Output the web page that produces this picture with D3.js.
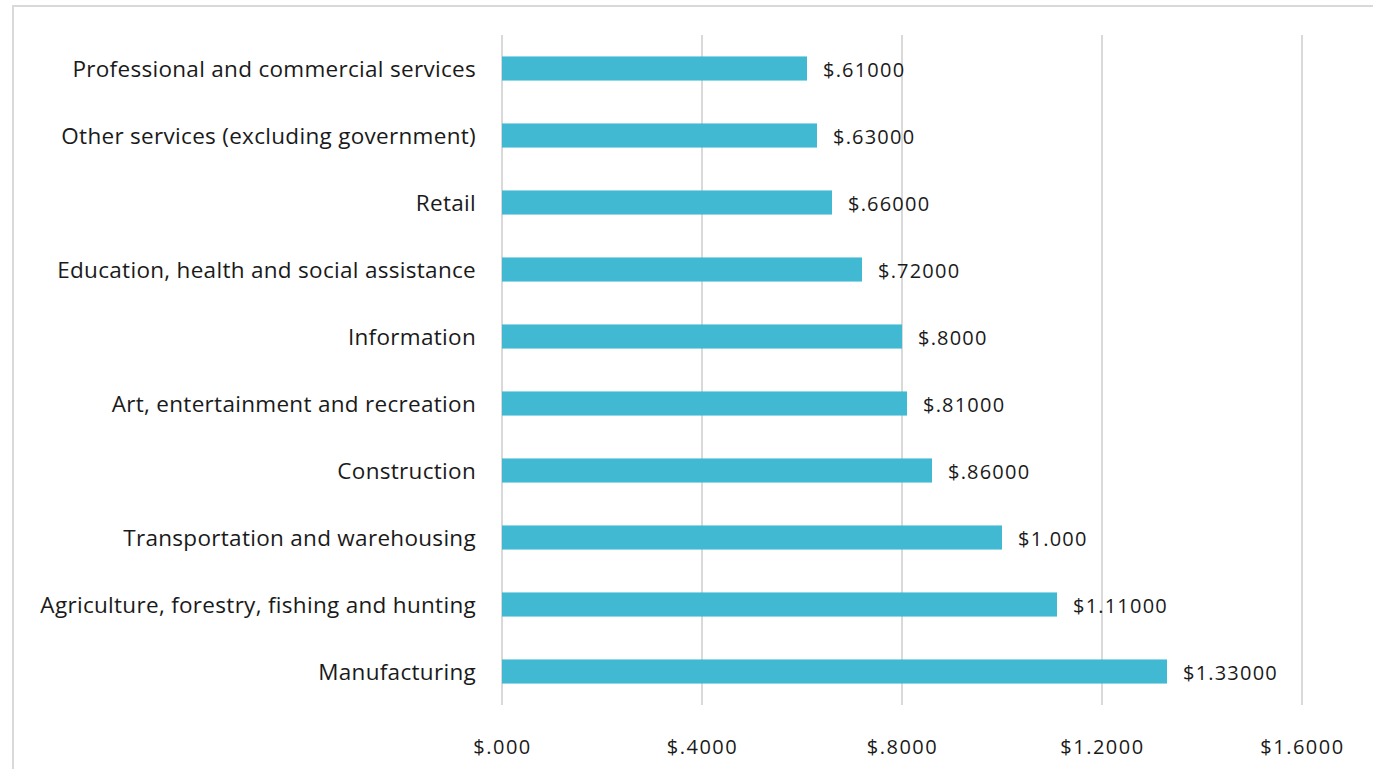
<!DOCTYPE html>
<html>
<head>
<meta charset="utf-8">
<script src="https://cdn.jsdelivr.net/npm/d3@7"></script>
<style>
  body { margin: 0; background: #fff; }
  svg { display: block; font-family: "Open Sans", Lato, sans-serif; }
</style>
</head>
<body>
<svg id="chart"></svg>
<script>
const categories = [
  "Professional and commercial services",
  "Other services (excluding government)",
  "Retail",
  "Education, health and social assistance",
  "Information",
  "Art, entertainment and recreation",
  "Construction",
  "Transportation and warehousing",
  "Agriculture, forestry, fishing and hunting",
  "Manufacturing"
];
const values = [0.61, 0.63, 0.66, 0.72, 0.80, 0.81, 0.86, 1.00, 1.11, 1.33];
const valueLabels = ["$.61000", "$.63000", "$.66000", "$.72000", "$.8000", "$.81000", "$.86000", "$1.000", "$1.11000", "$1.33000"];
const tickValues = [0, 0.4, 0.8, 1.2, 1.6];
const tickLabels = ["$.000", "$.4000", "$.8000", "$1.2000", "$1.6000"];

const width = 1373, height = 769;
const margin = {top: 35, right: 71, bottom: 64, left: 502};
const innerW = width - margin.left - margin.right;
const innerH = height - margin.top - margin.bottom;

const svg = d3.select("#chart").attr("width", width).attr("height", height);

// outer frame
svg.append("rect")
  .attr("x", 13).attr("y", 6)
  .attr("width", width).attr("height", height)
  .attr("fill", "none").attr("stroke", "#d9d9d9").attr("stroke-width", 2);

const chart = svg.append("g")
  .attr("transform", `translate(${margin.left}, ${margin.top})`);

const xscale = d3.scaleLinear().domain([0, 1.6]).range([0, innerW]);
const yscale = d3.scaleBand().domain(categories).range([0, innerH]).paddingInner(0.64).paddingOuter(0.32);

// gridlines
chart.append("g")
  .selectAll("line")
  .data(tickValues)
  .join("line")
  .attr("x1", d => xscale(d)).attr("x2", d => xscale(d))
  .attr("y1", 0).attr("y2", innerH)
  .attr("stroke", "#d9d9d9").attr("stroke-width", 2);

// x axis labels
const xaxis = d3.axisBottom(xscale)
  .tickValues(tickValues)
  .tickFormat((d, i) => tickLabels[i])
  .tickSize(0).tickPadding(35);
const xg = chart.append("g").attr("transform", `translate(0, ${innerH})`).call(xaxis);
xg.select(".domain").remove();
xg.selectAll("text")
  .attr("font-size", 20).attr("fill", "#1a1a1a")
  .attr("font-family", "'Open Sans', sans-serif").attr("letter-spacing", 1.5);

// y axis labels
const yaxis = d3.axisLeft(yscale).tickSize(0).tickPadding(26);
const yg = chart.append("g").call(yaxis);
yg.select(".domain").remove();
yg.selectAll("text")
  .attr("font-size", 22.5).attr("fill", "#1a1a1a")
  .attr("font-family", "'Open Sans', sans-serif")
  .attr("letter-spacing", 0.3)
  .attr("dy", "0.38em");

// bars
chart.selectAll("rect.bar")
  .data(values)
  .join("rect")
  .attr("class", "bar")
  .attr("x", 0)
  .attr("y", (d, i) => yscale(categories[i]))
  .attr("width", d => xscale(d))
  .attr("height", yscale.bandwidth())
  .attr("fill", "#41b9d3");

// value labels
chart.selectAll("text.val")
  .data(values)
  .join("text")
  .attr("class", "val")
  .attr("x", d => xscale(d) + 16)
  .attr("y", (d, i) => yscale(categories[i]) + yscale.bandwidth() / 2)
  .attr("dy", "0.42em")
  .attr("font-size", 20)
  .attr("letter-spacing", 1.2)
  .attr("fill", "#1a1a1a")
  .text((d, i) => valueLabels[i]);
</script>
</body>
</html>
